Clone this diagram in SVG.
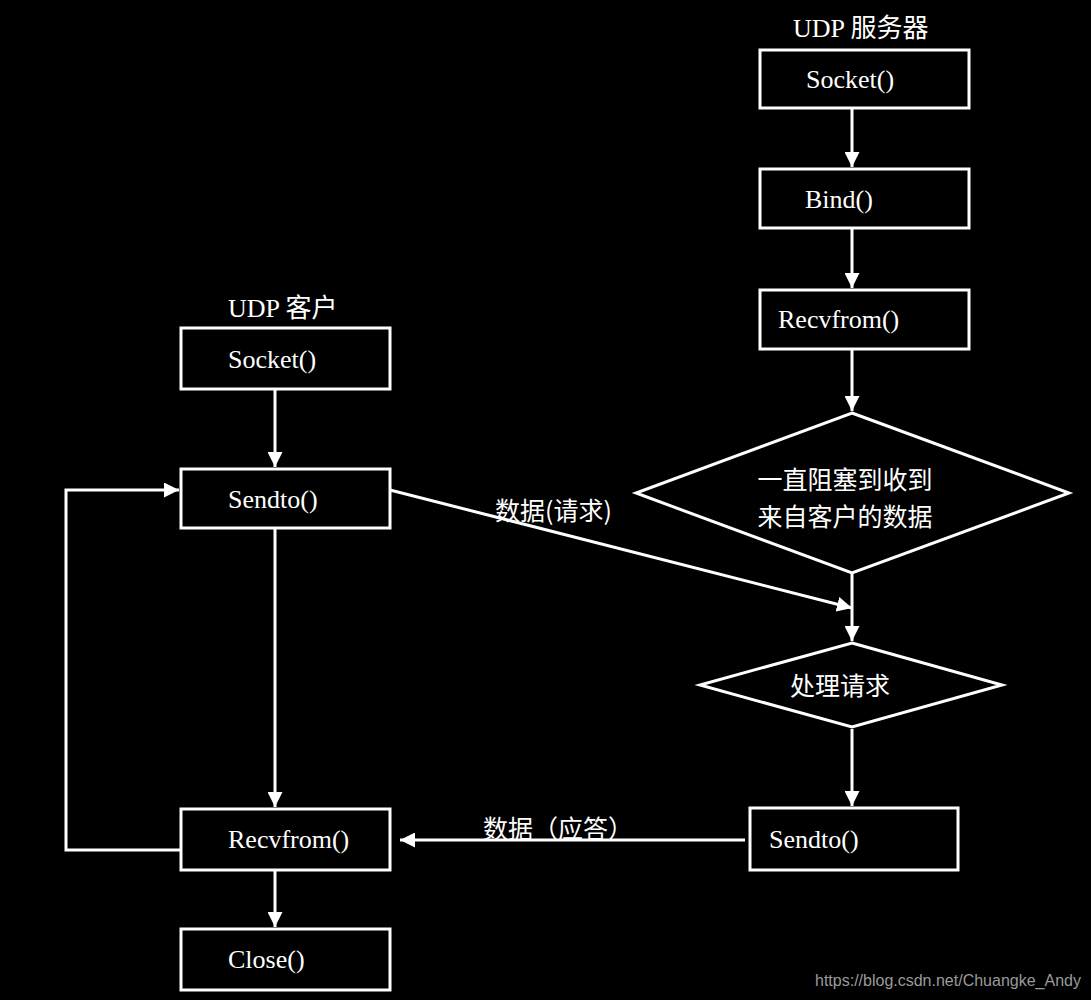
<svg xmlns="http://www.w3.org/2000/svg" width="1091" height="1000" viewBox="0 0 1091 1000">
<style>
.bg{fill:#000}
.box{fill:#000;stroke:#fff;stroke-width:3}
.fn{font-family:"Liberation Serif","DejaVu Serif",serif;font-size:26px;fill:#fff}
.cn{font-family:"Noto Sans CJK SC","Liberation Sans",sans-serif;font-size:25px;fill:#fff}
.ti{font-family:"Liberation Serif","Noto Sans CJK SC",serif;font-size:26px;fill:#fff}
.ln{fill:none;stroke:#fff;stroke-width:3}
.wm{font-family:"Liberation Sans",sans-serif;font-size:16px;fill:#9a9a9a}
</style>
<defs>
<marker id="ah" viewBox="0 0 10 10" refX="10" refY="5" markerWidth="5" markerHeight="5" markerUnits="strokeWidth" orient="auto">
<path d="M0,0 L10,5 L0,10 Z" fill="#fff"/>
</marker>
</defs>
<rect class="bg" x="0" y="0" width="1091" height="1000"/>
<text class="ti" x="793" y="37">UDP 服务器</text>
<text class="ti" x="228" y="317">UDP 客户</text>
<g id="connectors">
<line class="ln" x1="852" y1="108" x2="852" y2="167" marker-end="url(#ah)"/>
<line class="ln" x1="852" y1="228" x2="852" y2="288" marker-end="url(#ah)"/>
<line class="ln" x1="852" y1="349" x2="852" y2="411" marker-end="url(#ah)"/>
<line class="ln" x1="852" y1="573" x2="852" y2="641" marker-end="url(#ah)"/>
<line class="ln" x1="852" y1="729" x2="852" y2="806" marker-end="url(#ah)"/>
<line class="ln" x1="390" y1="490" x2="852" y2="608" marker-end="url(#ah)"/>
<line class="ln" x1="745" y1="840" x2="400" y2="840" marker-end="url(#ah)"/>
<line class="ln" x1="275" y1="389" x2="275" y2="467" marker-end="url(#ah)"/>
<line class="ln" x1="275" y1="528" x2="275" y2="807" marker-end="url(#ah)"/>
<line class="ln" x1="275" y1="870" x2="275" y2="927" marker-end="url(#ah)"/>
<polyline class="ln" points="181,850 66,850 66,490 179,490" marker-end="url(#ah)"/>
<text class="cn" x="495" y="520">数据(请求)</text>
<text class="cn" x="483" y="838">数据（应答）</text>
</g>
<g id="srv-socket"><rect class="box" x="760" y="50" width="209" height="58"/><text class="fn" x="806" y="88">Socket()</text></g>
<g id="srv-bind"><rect class="box" x="760" y="169" width="209" height="59"/><text class="fn" x="805" y="208">Bind()</text></g>
<g id="srv-recvfrom"><rect class="box" x="760" y="290" width="209" height="59"/><text class="fn" x="778" y="328">Recvfrom()</text></g>
<g id="srv-block"><polygon class="box" points="852,413 1069,493 852,573 636,493"/><text class="cn" x="845" y="489" text-anchor="middle" font-size="26">一直阻塞到收到</text><text class="cn" x="845" y="526" text-anchor="middle" font-size="26">来自客户的数据</text></g>
<g id="srv-process"><polygon class="box" points="852,643 1002,685 852,727 700,685"/><text class="cn" x="840" y="695" text-anchor="middle">处理请求</text></g>
<g id="srv-sendto"><rect class="box" x="750" y="808" width="208" height="62"/><text class="fn" x="769" y="848">Sendto()</text></g>
<g id="cli-socket"><rect class="box" x="181" y="328" width="209" height="61"/><text class="fn" x="228" y="368">Socket()</text></g>
<g id="cli-sendto"><rect class="box" x="181" y="469" width="209" height="59"/><text class="fn" x="228" y="508">Sendto()</text></g>
<g id="cli-recvfrom"><rect class="box" x="181" y="809" width="209" height="61"/><text class="fn" x="228" y="848">Recvfrom()</text></g>
<g id="cli-close"><rect class="box" x="181" y="929" width="209" height="61"/><text class="fn" x="228" y="968">Close()</text></g>
<text class="wm" x="815" y="986">https://blog.csdn.net/Chuangke_Andy</text>
</svg>
